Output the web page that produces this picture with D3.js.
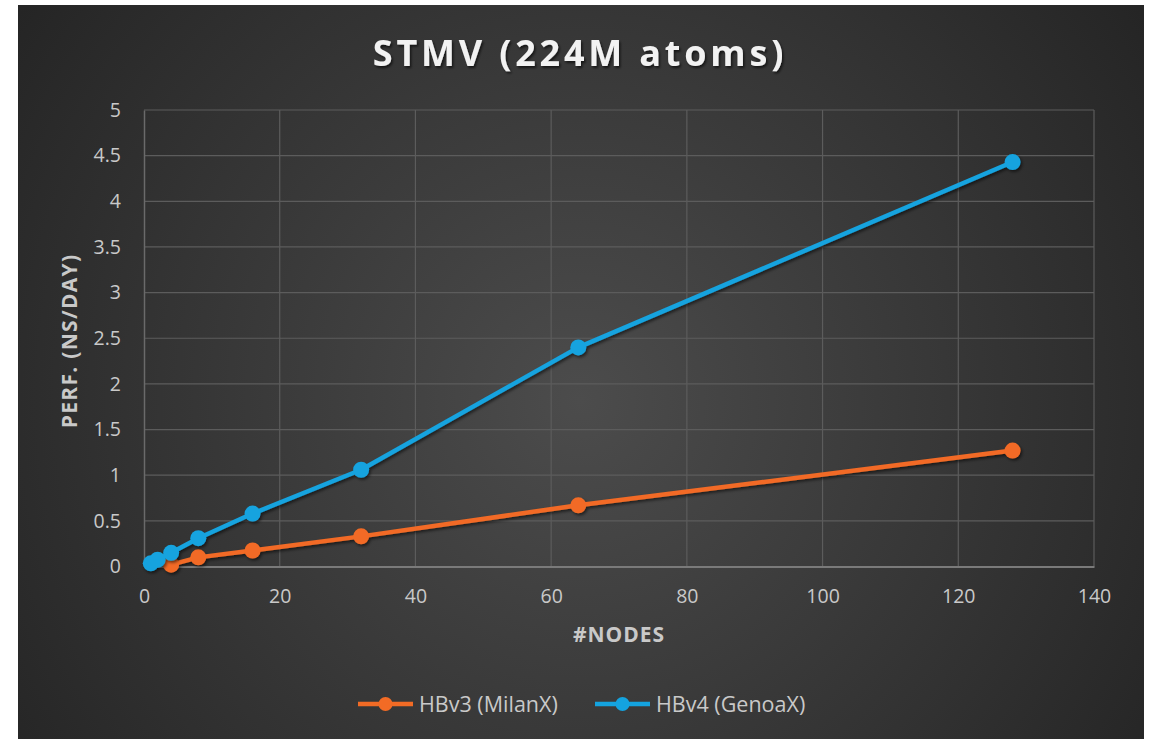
<!DOCTYPE html>
<html>
<head>
<meta charset="utf-8">
<script src="https://cdn.jsdelivr.net/npm/d3@7"></script>
<style>
  html, body { margin: 0; padding: 0; background: #ffffff; }
  svg { display: block; }
</style>
</head>
<body>
<svg id="chart" width="1155" height="739"></svg>
<script>
// Node counts and measured throughput (ns/day) for STMV, 224M atoms
const nodesHBv3 = [4, 8, 16, 32, 64, 128];
const perfHBv3 = [0.02, 0.1, 0.175, 0.33, 0.67, 1.27];
const nodesHBv4 = [1, 2, 4, 8, 16, 32, 64, 128];
const perfHBv4 = [0.035, 0.075, 0.15, 0.31, 0.58, 1.06, 2.4, 4.43];
const seriesNames = ["HBv3 (MilanX)", "HBv4 (GenoaX)"];
const seriesColors = ["#F26B25", "#14A3DF"];
const xTicks = [0, 20, 40, 60, 80, 100, 120, 140];
const yTicks = [0, 0.5, 1, 1.5, 2, 2.5, 3, 3.5, 4, 4.5, 5];

const svg = d3.select("#chart");
const font = "'Open Sans', 'Noto Sans', sans-serif";
const labelColor = "#c9c9c9";

const defs = svg.append("defs");
const bg = defs.append("radialGradient").attr("id", "bg")
  .attr("gradientUnits", "userSpaceOnUse")
  .attr("cx", 580).attr("cy", 400).attr("r", 700);
bg.append("stop").attr("offset", "0%").attr("stop-color", "#4c4c4c");
bg.append("stop").attr("offset", "100%").attr("stop-color", "#242424");

const shadow = defs.append("filter").attr("id", "shadow")
  .attr("x", "-50%").attr("y", "-50%").attr("width", "200%").attr("height", "200%");
shadow.append("feDropShadow").attr("dx", 1.5).attr("dy", 2).attr("stdDeviation", 1.5)
  .attr("flood-color", "#000").attr("flood-opacity", 0.55);

const tshadow = defs.append("filter").attr("id", "tshadow")
  .attr("x", "-10%").attr("y", "-30%").attr("width", "120%").attr("height", "160%");
tshadow.append("feDropShadow").attr("dx", 1.5).attr("dy", 2).attr("stdDeviation", 1.2)
  .attr("flood-color", "#000").attr("flood-opacity", 0.6);

// chart card
svg.append("rect").attr("x", 18).attr("y", 5).attr("width", 1126).attr("height", 734)
  .attr("fill", "url(#bg)");

const plot = { left: 144, right: 1094, top: 110, bottom: 566.5 };
const x = d3.scaleLinear().domain([0, 140]).range([plot.left, plot.right]);
const y = d3.scaleLinear().domain([0, 5]).range([plot.bottom, plot.top]);

// gridlines
const grid = svg.append("g");
grid.selectAll("line.h").data(yTicks.slice(1)).join("line")
  .attr("x1", plot.left).attr("x2", plot.right)
  .attr("y1", d => y(d)).attr("y2", d => y(d))
  .attr("stroke", "#5c5c5c").attr("stroke-width", 1.2);
grid.selectAll("line.v").data(xTicks.slice(1)).join("line")
  .attr("y1", plot.top).attr("y2", plot.bottom)
  .attr("x1", d => x(d)).attr("x2", d => x(d))
  .attr("stroke", "#5c5c5c").attr("stroke-width", 1.2);

// axes
const xAxis = svg.append("g").attr("transform", `translate(0,${plot.bottom})`)
  .call(d3.axisBottom(x).tickValues(xTicks).tickSize(0).tickPadding(23).tickFormat(d3.format("d")));
const yAxis = svg.append("g").attr("transform", `translate(${plot.left},0)`)
  .call(d3.axisLeft(y).tickValues(yTicks).tickSize(0).tickPadding(23).tickFormat(d => String(d)));
[xAxis, yAxis].forEach(a => {
  a.select(".domain").attr("stroke", "#7a7a7a").attr("stroke-width", 2);
  a.selectAll("text").attr("fill", labelColor).attr("font-size", 19.5).attr("font-family", font);
});
yAxis.select(".domain").attr("stroke", "#6a6a6a").attr("stroke-width", 1.5);

// axis titles
svg.append("text").attr("x", 619).attr("y", 642).attr("text-anchor", "middle")
  .attr("fill", labelColor).attr("font-family", font).attr("font-weight", 700)
  .attr("font-size", 21).attr("letter-spacing", 1).text("#NODES");
svg.append("text").attr("transform", "translate(77,341) rotate(-90)").attr("text-anchor", "middle")
  .attr("fill", labelColor).attr("font-family", font).attr("font-weight", 700)
  .attr("font-size", 21).attr("letter-spacing", 1.3).text("PERF. (NS/DAY)");

// chart title
svg.append("text").attr("x", 580).attr("y", 66).attr("text-anchor", "middle")
  .attr("fill", "#f2f2f2").attr("font-family", font).attr("font-weight", 700)
  .attr("font-size", 36).attr("letter-spacing", 3.8).attr("filter", "url(#tshadow)")
  .text("STMV (224M atoms)");

// series
const series = [
  { name: seriesNames[0], color: seriesColors[0], pts: nodesHBv3.map((n, i) => [n, perfHBv3[i]]) },
  { name: seriesNames[1], color: seriesColors[1], pts: nodesHBv4.map((n, i) => [n, perfHBv4[i]]) }
];
const line = d3.line().x(d => x(d[0])).y(d => y(d[1]));
series.forEach(s => {
  const g = svg.append("g").attr("filter", "url(#shadow)");
  g.append("path").attr("d", line(s.pts)).attr("fill", "none")
    .attr("stroke", s.color).attr("stroke-width", 4.5).attr("stroke-linejoin", "round");
  g.selectAll("circle").data(s.pts).join("circle")
    .attr("cx", d => x(d[0])).attr("cy", d => y(d[1])).attr("r", 8)
    .attr("fill", s.color);
});

// legend
const legendItems = [
  { s: series[0], x0: 358 },
  { s: series[1], x0: 595 }
];
legendItems.forEach(item => {
  const g = svg.append("g").attr("transform", `translate(${item.x0},704)`);
  g.append("line").attr("x1", 0).attr("x2", 55).attr("y1", 0).attr("y2", 0)
    .attr("stroke", item.s.color).attr("stroke-width", 4.5);
  g.append("circle").attr("cx", 27.5).attr("cy", 0).attr("r", 7).attr("fill", item.s.color);
  g.append("text").attr("x", 61).attr("y", 7.5).attr("fill", labelColor)
    .attr("font-family", font).attr("font-size", 21.5).text(item.s.name);
});
</script>
</body>
</html>
